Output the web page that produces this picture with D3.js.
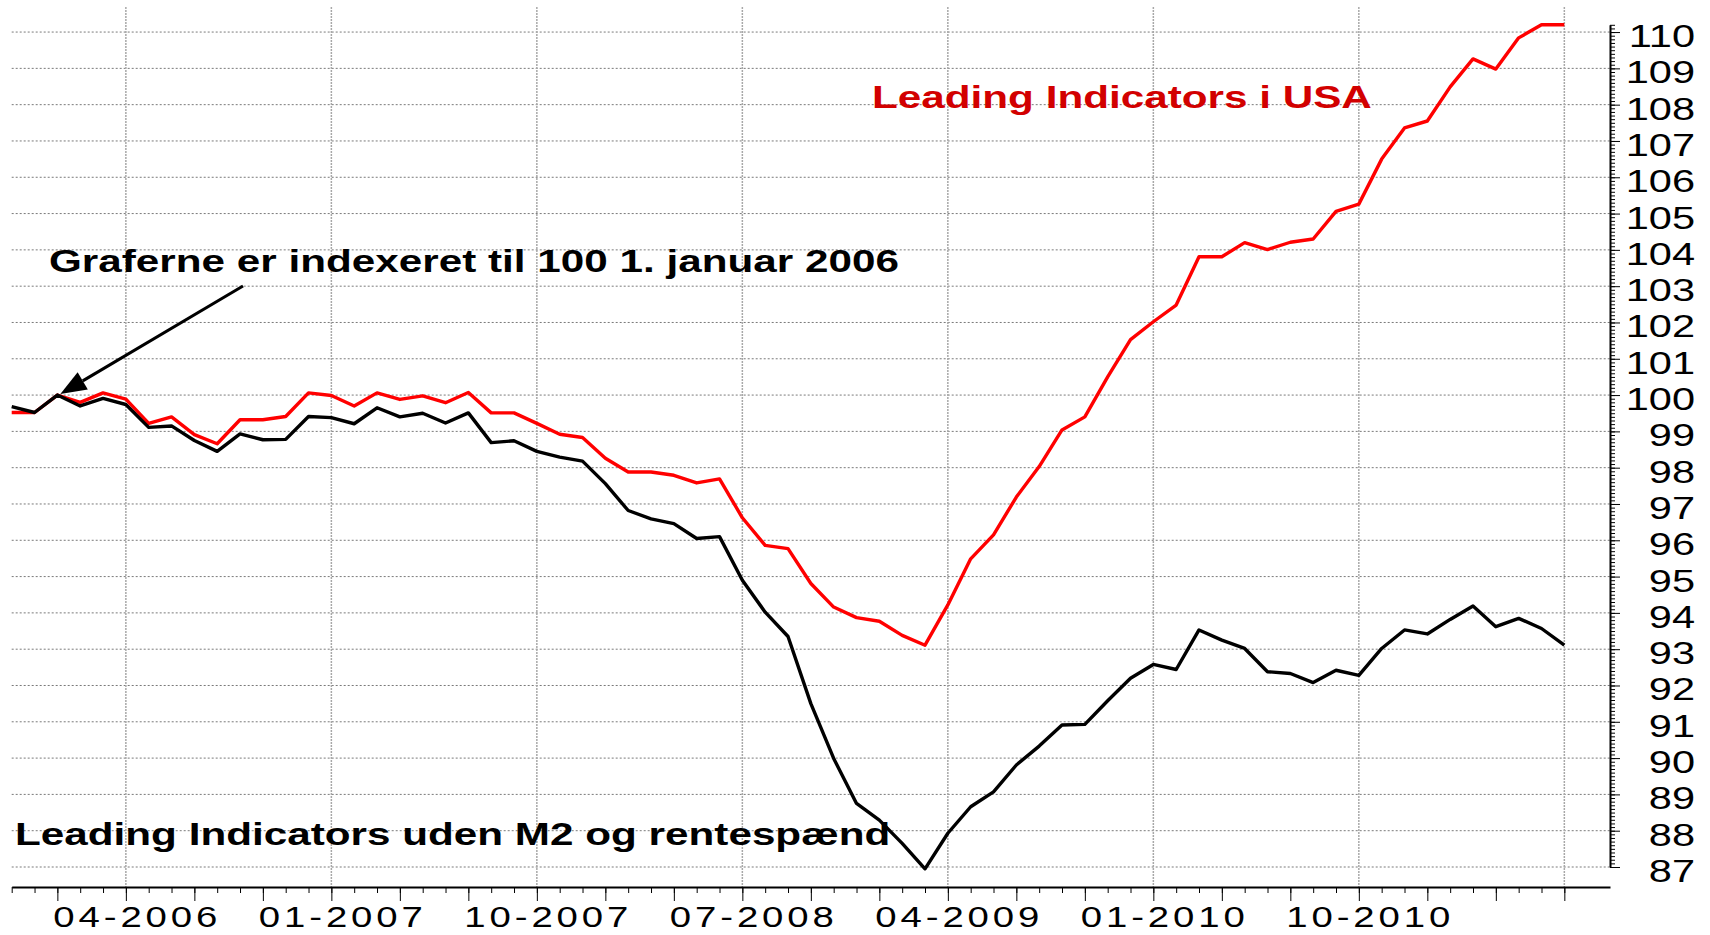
<!DOCTYPE html>
<html>
<head>
<meta charset="utf-8">
<script src="https://cdn.jsdelivr.net/npm/d3@7"></script>
<style>
  body { margin: 0; background: #fff; }
  text { font-family: "Liberation Sans", Arial, sans-serif; }
</style>
</head>
<body>
<div id="chart"></div>
<script>
// monthly values, index 0 = nov 2005 ... index 68 = jul 2011 (indexed 100 = jan 2006)
const usa = [
  99.52, 99.52, 100.0, 99.80, 100.06, 99.89, 99.22, 99.40, 98.91, 98.66,
  99.32, 99.32, 99.41, 100.06, 99.99, 99.70, 100.06, 99.88, 99.98, 99.79,
  100.07, 99.51, 99.51, 99.22, 98.92, 98.83, 98.26, 97.88, 97.88, 97.79,
  97.58, 97.69, 96.62, 95.86, 95.77, 94.81, 94.16, 93.87, 93.77, 93.38,
  93.11, 94.22, 95.49, 96.15, 97.19, 98.03, 99.04, 99.40, 100.50, 101.53,
  102.02, 102.48, 103.81, 103.81, 104.20, 104.01, 104.21, 104.30, 105.06, 105.26,
  106.50, 107.36, 107.55, 108.49, 109.26, 108.98, 109.84, 110.20, 110.20
];
const udenM2 = [
  99.68, 99.52, 100.0, 99.70, 99.91, 99.74, 99.11, 99.15, 98.75, 98.45,
  98.93, 98.77, 98.78, 99.41, 99.38, 99.21, 99.65, 99.40, 99.50, 99.23,
  99.51, 98.69, 98.74, 98.45, 98.29, 98.18, 97.56, 96.82, 96.59, 96.46,
  96.05, 96.10, 94.90, 94.02, 93.35, 91.50, 89.99, 88.75, 88.29, 87.65,
  86.95, 87.93, 88.66, 89.07, 89.81, 90.33, 90.91, 90.93, 91.58, 92.20,
  92.58, 92.44, 93.53, 93.25, 93.02, 92.38, 92.33, 92.08, 92.42, 92.28,
  93.02, 93.53, 93.42, 93.82, 94.19, 93.62, 93.85, 93.57, 93.11
];
const yTicks = d3.range(87, 111);
const xLabelIdx = [5, 14, 23, 32, 41, 50, 59];
const xLabels = ["04-2006", "01-2007", "10-2007", "07-2008", "04-2009", "01-2010", "10-2010"];
const gridIdx = [5, 14, 23, 32, 41, 50, 59, 68];

const width = 1710, height = 935;
const stretch = 1.32;   // the original lettering is wide

const x = d3.scaleLinear().domain([0, 70]).range([11.7, 1610]);
const y = d3.scaleLinear().domain([87, 110.2]).range([867, 24.8]);
const axisY = 887;

const svg = d3.select("#chart").append("svg")
    .attr("width", width).attr("height", height);

// grid
svg.append("g").selectAll("line").data(yTicks).enter().append("line")
    .attr("x1", x(0)).attr("x2", x(70))
    .attr("y1", d => y(d)).attr("y2", d => y(d))
    .attr("stroke", "#7a7a7a").attr("stroke-width", 1)
    .attr("stroke-dasharray", "2,2");

svg.append("g").selectAll("line").data(gridIdx).enter().append("line")
    .attr("x1", d => x(d)).attr("x2", d => x(d))
    .attr("y1", 7).attr("y2", axisY)
    .attr("stroke", "#a8a8a8").attr("stroke-width", 1.5)
    .attr("stroke-dasharray", "2,1");

// x axis
const gx = svg.append("g").attr("transform", `translate(0,${axisY})`);
gx.call(d3.axisBottom(x).tickValues(d3.range(0, 69)).tickSize(6).tickSizeOuter(0).tickFormat(""));
gx.append("g").call(d3.axisBottom(x).tickValues(d3.range(2, 69, 3)).tickSize(14).tickSizeOuter(0).tickFormat(""))
    .select(".domain").remove();
gx.select(".domain").attr("stroke-width", 2);

svg.append("g").selectAll("text").data(xLabelIdx).enter().append("text")
    .attr("transform", d => `translate(${x(d + 0.5)},927) scale(1.3,1)`)
    .attr("text-anchor", "middle")
    .attr("font-size", 29.5)
    .attr("letter-spacing", 3)
    .attr("fill", "#000")
    .text((d, i) => xLabels[i]);

// y axis (right)
const gy = svg.append("g").attr("transform", `translate(${x(70)},0)`);
gy.call(d3.axisRight(y).tickValues(d3.range(870, 1103).map(v => v / 10)).tickSize(5).tickSizeOuter(0).tickFormat(""));
gy.append("g").call(d3.axisRight(y).tickValues(yTicks).tickSize(10).tickSizeOuter(0).tickFormat(""))
    .select(".domain").remove();
gy.select(".domain").attr("stroke-width", 2);

svg.append("g").selectAll("text").data(yTicks).enter().append("text")
    .attr("transform", d => `translate(1695,${y(d) + 15}) scale(1.34,1)`)
    .attr("text-anchor", "end")
    .attr("font-size", 31)
    .attr("fill", "#000")
    .text(d => d);

// lines
const line = d3.line().x((d, i) => x(i)).y(d => y(d));

svg.append("path").datum(usa)
    .attr("d", line).attr("fill", "none")
    .attr("stroke", "#ff0000").attr("stroke-width", 3.4)
    .attr("stroke-linejoin", "round");

svg.append("path").datum(udenM2)
    .attr("d", line).attr("fill", "none")
    .attr("stroke", "#000").attr("stroke-width", 3.4)
    .attr("stroke-linejoin", "round");

// labels
const notes = [
    { t: "Graferne er indexeret til 100 1. januar 2006", x: 49, y: 272, c: "#000" },
    { t: "Leading Indicators i USA", x: 872, y: 108, c: "#d20000" },
    { t: "Leading Indicators uden M2 og rentespænd", x: 15, y: 845, c: "#000" }
];
svg.append("g").selectAll("text").data(notes).enter().append("text")
    .attr("transform", d => `translate(${d.x},${d.y}) scale(${stretch},1)`)
    .attr("font-size", 32).attr("font-weight", "bold")
    .attr("fill", d => d.c)
    .text(d => d.t);

// arrow to the index point
const tip = [x(2) + 3, y(100) - 1], from = [243, 286];
const dx = tip[0] - from[0], dy = tip[1] - from[1], len = Math.hypot(dx, dy);
const ux = dx / len, uy = dy / len, head = 26, half = 10;
const base = [tip[0] - ux * head, tip[1] - uy * head];
svg.append("line")
    .attr("x1", from[0]).attr("y1", from[1])
    .attr("x2", base[0]).attr("y2", base[1])
    .attr("stroke", "#000").attr("stroke-width", 3);
svg.append("path")
    .attr("d", d3.line()([tip, [base[0] - uy * half, base[1] + ux * half], [base[0] + uy * half, base[1] - ux * half]]) + "Z")
    .attr("fill", "#000");
</script>
</body>
</html>
